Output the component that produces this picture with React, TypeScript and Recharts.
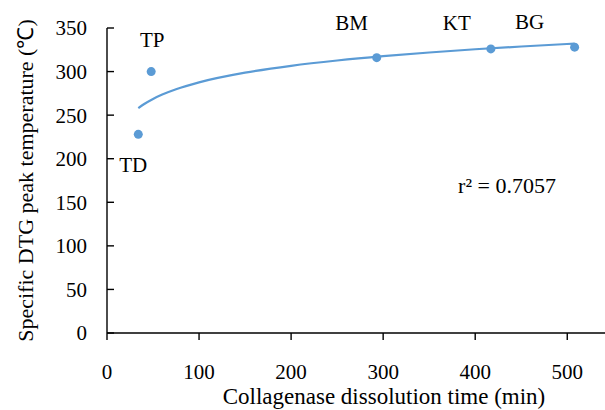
import { ComposedChart, Line, Scatter, XAxis, YAxis } from "recharts";

// Samples and fitted log trend.
const SAMPLES = ["TD", "TP", "BM", "KT", "BG"];
const DISSOLUTION_MIN = [34, 48, 293, 417, 508];
const PEAK_TEMP = [228, 300, 316, 326, 328];

const TREND_X = [34, 40, 50, 60, 75, 100, 150, 200, 250, 300, 350, 400, 450, 508];
const TREND_Y = [258, 262.5, 268.6, 273.6, 279.7, 287.6, 298.7, 306.6, 312.7, 317.7, 321.9, 325.6, 328.8, 332.1];

const X_TICKS = [0, 100, 200, 300, 400, 500];
const Y_TICKS = [0, 50, 100, 150, 200, 250, 300, 350];

// where each sample name sits relative to its dot
const LABEL_OFFSET: Record<string, [number, number]> = {
  TD: [-5, 31],
  TP: [1, -32],
  BM: [-25, -35],
  KT: [-34, -26],
  BG: [-45, -25],
};

const BLUE = "#5B9BD5";
const FONT = "'Liberation Serif', 'Times New Roman', serif";

const trend = TREND_X.map((x, i) => ({ x, y: TREND_Y[i] }));
const points = SAMPLES.map((name, i) => ({ name, x: DISSOLUTION_MIN[i], y: PEAK_TEMP[i] }));

function Dot(props: any) {
  const { cx, cy, payload } = props;
  const [dx, dy] = LABEL_OFFSET[payload.name] ?? [0, -20];
  return (
    <g>
      <circle cx={cx} cy={cy} r={4.5} fill={BLUE} />
      <text
        x={cx + dx}
        y={cy + dy}
        textAnchor="middle"
        dominantBaseline="central"
        fontSize={21}
        fontFamily={FONT}
        fill="#000"
      >
        {payload.name}
      </text>
    </g>
  );
}

export default function App() {
  return (
    <div style={{ position: "absolute", left: 0, top: 0, width: 605, height: 410, background: "#fff", fontFamily: FONT }}>
      <ComposedChart
        width={605}
        height={410}
        data={trend}
        margin={{ top: 28, right: 0, left: 0, bottom: 0 }}
        style={{ fontFamily: FONT }}
      >
        <XAxis
          type="number"
          dataKey="x"
          domain={[0, 541]}
          ticks={X_TICKS}
          allowDataOverflow
          height={77}
          stroke="#000"
          strokeWidth={1.4}
          tickSize={7}
          tickMargin={24}
          tick={{ fill: "#000", fontSize: 21, fontFamily: FONT }}
          label={{
            value: "Collagenase dissolution time (min)",
            position: "insideBottom",
            offset: 6,
            dx: 28,
            fill: "#000",
            fontSize: 23,
            fontFamily: FONT,
          }}
        />
        <YAxis
          type="number"
          dataKey="y"
          domain={[0, 350]}
          ticks={Y_TICKS}
          width={107}
          stroke="#000"
          strokeWidth={1.4}
          tickSize={-7}
          tickMargin={27}
          tick={{ fill: "#000", fontSize: 21, fontFamily: FONT }}
          label={{
            content: ({ viewBox }: any) => (
              <text
                transform={`translate(${viewBox.x + 25},${viewBox.y + viewBox.height / 2}) rotate(-90)`}
                textAnchor="middle"
                dominantBaseline="central"
                fontSize={22}
                fontFamily={FONT}
                fill="#000"
              >
                Specific DTG peak temperature (℃)
              </text>
            ),
          }}
        />
        <Line dataKey="y" type="monotone" stroke={BLUE} strokeWidth={2.2} dot={false} isAnimationActive={false} />
        <Scatter data={points} dataKey="y" shape={<Dot />} isAnimationActive={false} />
        <text x={507} y={193} textAnchor="middle" fontSize={22} fontFamily={FONT} fill="#000">
          r² = 0.7057
        </text>
      </ComposedChart>
    </div>
  );
}
